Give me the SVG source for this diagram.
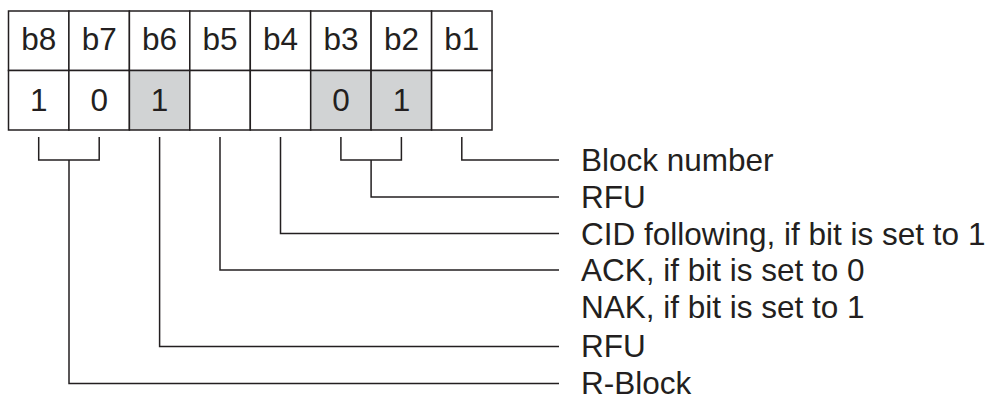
<svg xmlns="http://www.w3.org/2000/svg" width="996" height="398" viewBox="0 0 996 398">
<style>
.cell{fill:#ffffff;stroke:#231f20;stroke-width:1.5}
.gray{fill:#d1d3d4}
.t{font-family:"Liberation Sans",Arial,sans-serif;font-size:31.5px;fill:#231f20;text-anchor:middle}
.lbl{font-family:"Liberation Sans",Arial,sans-serif;font-size:31.5px;fill:#231f20}
.ln{fill:none;stroke:#231f20;stroke-width:1.5}
</style>
<rect width="996" height="398" fill="#ffffff"/>
<g id="table">
<g id="b8"><rect class="cell" x="8.5" y="11" width="60.4" height="59.5"/><rect class="cell" x="8.5" y="70.5" width="60.4" height="59.5"/><text class="t" x="38.7" y="50">b8</text><text class="t" x="38.7" y="111">1</text></g>
<g id="b7"><rect class="cell" x="68.9" y="11" width="60.5" height="59.5"/><rect class="cell" x="68.9" y="70.5" width="60.5" height="59.5"/><text class="t" x="99.2" y="50">b7</text><text class="t" x="99.2" y="111">0</text></g>
<g id="b6"><rect class="cell" x="129.4" y="11" width="60.4" height="59.5"/><rect class="cell gray" x="129.4" y="70.5" width="60.4" height="59.5"/><text class="t" x="159.6" y="50">b6</text><text class="t" x="159.6" y="111">1</text></g>
<g id="b5"><rect class="cell" x="189.8" y="11" width="60.5" height="59.5"/><rect class="cell" x="189.8" y="70.5" width="60.5" height="59.5"/><text class="t" x="220" y="50">b5</text></g>
<g id="b4"><rect class="cell" x="250.3" y="11" width="60.4" height="59.5"/><rect class="cell" x="250.3" y="70.5" width="60.4" height="59.5"/><text class="t" x="280.5" y="50">b4</text></g>
<g id="b3"><rect class="cell" x="310.7" y="11" width="60.4" height="59.5"/><rect class="cell gray" x="310.7" y="70.5" width="60.4" height="59.5"/><text class="t" x="340.9" y="50">b3</text><text class="t" x="340.9" y="111">0</text></g>
<g id="b2"><rect class="cell" x="371.1" y="11" width="60.5" height="59.5"/><rect class="cell gray" x="371.1" y="70.5" width="60.5" height="59.5"/><text class="t" x="401.4" y="50">b2</text><text class="t" x="401.4" y="111">1</text></g>
<g id="b1"><rect class="cell" x="431.6" y="11" width="60.4" height="59.5"/><rect class="cell" x="431.6" y="70.5" width="60.4" height="59.5"/><text class="t" x="461.8" y="50">b1</text></g>
</g>
<g id="connectors">
<path class="ln" d="M38.7,137 V160 H99.2 V137 M69,160 V383.5 H559"/>
<path class="ln" d="M159.6,137 V346.5 H559"/>
<path class="ln" d="M220,137 V270 H559"/>
<path class="ln" d="M280.5,137 V233.5 H559"/>
<path class="ln" d="M340.9,137 V160 H401.4 V137 M371.1,160 V197 H559"/>
<path class="ln" d="M461.8,137 V160 H559"/>
</g>
<g id="labels">
<text class="lbl" x="581" y="171">Block number</text>
<text class="lbl" x="581" y="208">RFU</text>
<text class="lbl" x="581" y="244.5">CID following, if bit is set to 1</text>
<text class="lbl" x="581" y="281">ACK, if bit is set to 0</text>
<text class="lbl" x="581" y="318">NAK, if bit is set to 1</text>
<text class="lbl" x="581" y="357">RFU</text>
<text class="lbl" x="581" y="394">R-Block</text>
</g>
</svg>
